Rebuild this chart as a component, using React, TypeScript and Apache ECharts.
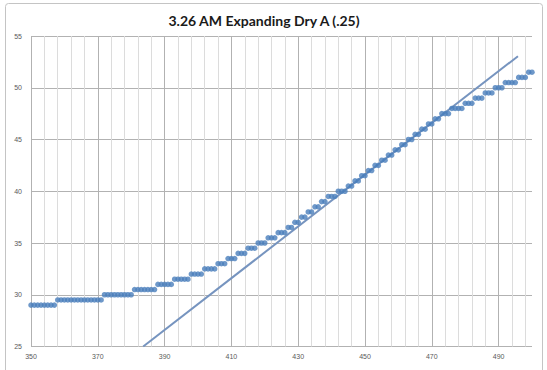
import React, { useEffect, useRef } from "react";
import * as echarts from "echarts";

// Readings: position (x) and level (y), sampled once per unit of x.
const xValues = [
  350, 351, 352, 353, 354, 355, 356, 357, 358, 359,
  360, 361, 362, 363, 364, 365, 366, 367, 368, 369,
  370, 371, 372, 373, 374, 375, 376, 377, 378, 379,
  380, 381, 382, 383, 384, 385, 386, 387, 388, 389,
  390, 391, 392, 393, 394, 395, 396, 397, 398, 399,
  400, 401, 402, 403, 404, 405, 406, 407, 408, 409,
  410, 411, 412, 413, 414, 415, 416, 417, 418, 419,
  420, 421, 422, 423, 424, 425, 426, 427, 428, 429,
  430, 431, 432, 433, 434, 435, 436, 437, 438, 439,
  440, 441, 442, 443, 444, 445, 446, 447, 448, 449,
  450, 451, 452, 453, 454, 455, 456, 457, 458, 459,
  460, 461, 462, 463, 464, 465, 466, 467, 468, 469,
  470, 471, 472, 473, 474, 475, 476, 477, 478, 479,
  480, 481, 482, 483, 484, 485, 486, 487, 488, 489,
  490, 491, 492, 493, 494, 495, 496, 497, 498, 499,
  500,
];

const yValues = [
  29, 29, 29, 29, 29, 29, 29, 29, 29.5, 29.5,
  29.5, 29.5, 29.5, 29.5, 29.5, 29.5, 29.5, 29.5, 29.5, 29.5,
  29.5, 29.5, 30, 30, 30, 30, 30, 30, 30, 30,
  30, 30.5, 30.5, 30.5, 30.5, 30.5, 30.5, 30.5, 31, 31,
  31, 31, 31, 31.5, 31.5, 31.5, 31.5, 31.5, 32, 32,
  32, 32, 32.5, 32.5, 32.5, 32.5, 33, 33, 33, 33.5,
  33.5, 33.5, 34, 34, 34, 34.5, 34.5, 34.5, 35, 35,
  35, 35.5, 35.5, 35.5, 36, 36, 36, 36.5, 36.5, 37,
  37, 37.5, 37.5, 38, 38, 38.5, 38.5, 39, 39, 39.5,
  39.5, 39.5, 40, 40, 40, 40.5, 40.5, 41, 41, 41.5,
  41.5, 42, 42, 42.5, 42.5, 43, 43, 43.5, 43.5, 44,
  44, 44.5, 44.5, 45, 45, 45.5, 45.5, 46, 46, 46.5,
  46.5, 47, 47, 47.5, 47.5, 47.5, 48, 48, 48, 48,
  48.5, 48.5, 48.5, 49, 49, 49, 49.5, 49.5, 49.5, 50,
  50, 50, 50.5, 50.5, 50.5, 50.5, 51, 51, 51, 51.5,
  51.5,
];

// Reference line with slope 0.25
const fitLineX = [383.6, 495.8];
const fitLineY = [25, 53.05];

const TITLE = "3.26 AM Expanding Dry A (.25)";
const X_MIN = 350;
const X_MAX = 500;
const X_LABEL_STEP = 20;
const Y_MIN = 25;
const Y_MAX = 55;
const Y_STEP = 5;

const MAJOR = "#b2b2b2";
const MINOR = "#dcdcdc";
const NONE = "rgba(0,0,0,0)";

export default function App() {
  const ref = useRef<HTMLDivElement>(null);

  useEffect(() => {
    if (!ref.current) return;
    const chart = echarts.init(ref.current, null, { renderer: "svg" });

    const points = xValues.map((x, i) => [x, yValues[i]]);
    const fit = fitLineX.map((x, i) => [x, fitLineY[i]]);

    // Split lines every 2 units: major every 20, minor every 4, none in between.
    const splitColors = [MAJOR, NONE, MINOR, NONE, MINOR, NONE, MINOR, NONE, MINOR, NONE];

    chart.setOption({
      animation: false,
      backgroundColor: "#ffffff",
      graphic: [
        {
          type: "rect",
          shape: { x: 5.5, y: 3.5, width: 537, height: 372, r: 3 },
          style: { fill: "none", stroke: "#c4c4c4", lineWidth: 1 },
          silent: true,
        },
        {
          type: "text",
          x: 264,
          y: 20,
          style: {
            text: TITLE,
            align: "center",
            verticalAlign: "middle",
            fontFamily: "Lato",
            fontWeight: "bold",
            fontSize: 14,
            fill: "#1a1a1a",
          },
          silent: true,
        },
      ],
      grid: { left: 31, right: 15, top: 36, bottom: 23.5 },
      xAxis: {
        type: "value",
        min: X_MIN,
        max: X_MAX,
        interval: 2,
        axisLine: { show: false },
        axisTick: { show: false },
        axisLabel: {
          fontSize: 7,
          fontFamily: "Liberation Sans",
          color: "#5a5a5a",
          margin: 6,
          showMaxLabel: false,
          formatter: (v: number) =>
            (v - X_MIN) % X_LABEL_STEP === 0 ? String(v) : "",
        },
        splitLine: {
          show: true,
          showMaxLine: false,
          lineStyle: { color: splitColors, width: 1 },
        },
      },
      yAxis: {
        type: "value",
        min: Y_MIN,
        max: Y_MAX,
        interval: Y_STEP,
        axisLine: { show: false },
        axisTick: { show: false },
        axisLabel: {
          fontSize: 7,
          fontFamily: "Liberation Sans",
          color: "#5a5a5a",
          margin: 9,
        },
        splitLine: { show: true, lineStyle: { color: MAJOR, width: 1 } },
      },
      series: [
        {
          type: "line",
          data: fit,
          symbol: "none",
          lineStyle: { color: "#7694bf", width: 2 },
          z: 2,
        },
        {
          type: "scatter",
          data: points,
          symbol: "circle",
          symbolSize: 5.5,
          itemStyle: { color: "#4a7ebb" },
          z: 3,
        },
      ],
    });

    return () => chart.dispose();
  }, []);

  return (
    <div
      ref={ref}
      style={{ position: "fixed", left: 0, top: 0, width: 547, height: 370, background: "#fff" }}
    />
  );
}
